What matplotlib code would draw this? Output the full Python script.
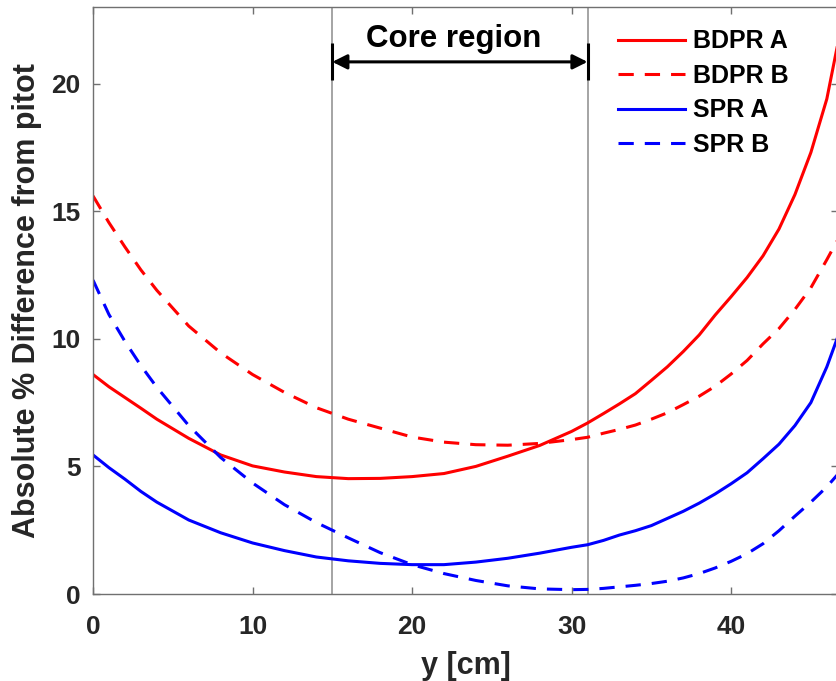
import matplotlib
matplotlib.use("Agg")
import matplotlib.pyplot as plt

plt.rcParams['font.family'] = ['Liberation Sans', 'DejaVu Sans']
plt.rcParams['font.weight'] = 'bold'

# Data
y_cm = [0, 1, 2, 3, 4, 6, 8, 10, 12, 14, 16, 18, 20, 22, 24, 26, 28, 30, 31, 32, 33, 34, 35, 36,
        37, 38, 39, 40, 41, 42, 43, 44, 45, 46, 46.7]
bdpr_a = [8.6, 8.12, 7.7, 7.28, 6.85, 6.1, 5.45, 5.02, 4.78, 4.6, 4.52, 4.53, 4.6, 4.72, 5.0, 5.4,
          5.82, 6.37, 6.7, 7.07, 7.45, 7.85, 8.37, 8.9, 9.5, 10.15, 10.93, 11.65, 12.4, 13.25,
          14.3, 15.65, 17.3, 19.4, 21.6]
bdpr_b = [15.6, 14.55, 13.6, 12.7, 11.9, 10.5, 9.45, 8.6, 7.9, 7.3, 6.85, 6.5, 6.15, 5.95, 5.85,
          5.83, 5.9, 6.05, 6.14, 6.3, 6.45, 6.62, 6.85, 7.1, 7.42, 7.75, 8.14, 8.62, 9.15, 9.8,
          10.4, 11.15, 12.0, 13.1, 13.9]
spr_a = [5.45, 4.95, 4.5, 4.02, 3.6, 2.9, 2.4, 2.0, 1.7, 1.45, 1.3, 1.2, 1.15, 1.15, 1.25, 1.4,
         1.6, 1.83, 1.93, 2.1, 2.31, 2.48, 2.68, 2.96, 3.24, 3.56, 3.92, 4.32, 4.75, 5.3, 5.87, 6.6,
         7.5, 8.9, 10.1]
spr_b = [12.3, 10.95, 9.9, 8.95, 8.1, 6.6, 5.35, 4.35, 3.5, 2.8, 2.2, 1.62, 1.15, 0.8, 0.53, 0.32,
         0.2, 0.17, 0.18, 0.22, 0.28, 0.34, 0.41, 0.5, 0.63, 0.8, 1.02, 1.28, 1.58, 1.97, 2.48,
         3.05, 3.6, 4.2, 4.7]

series_labels = ['BDPR A', 'BDPR B', 'SPR A', 'SPR B']
core_start, core_end = 15, 31
xticks = [0, 10, 20, 30, 40]
yticks = [0, 5, 10, 15, 20]

W, H = 837, 681
fig = plt.figure(figsize=(W / 100, H / 100), dpi=100)
ax = fig.add_axes([93 / W, (H - 594) / H, 745 / W, 587 / H])

dash = (5, 3.6)
lw = 2.2
ax.plot(y_cm, bdpr_a, color='#ff0000', lw=lw, label=series_labels[0])
ax.plot(y_cm, bdpr_b, color='#ff0000', lw=lw, ls=(0, dash), label=series_labels[1])
ax.plot(y_cm, spr_a, color='#0000ff', lw=lw, label=series_labels[2])
ax.plot(y_cm, spr_b, color='#0000ff', lw=lw, ls=(0, dash), label=series_labels[3])

for xv in (core_start, core_end):
    ax.axvline(xv, color='#8c8c8c', lw=1.1, zorder=1)
    ax.plot([xv, xv], [20.13, 21.58], color='black', lw=2.2, solid_capstyle='butt')

ax.annotate('', xy=(core_start, 20.85), xytext=(core_end, 20.85),
            arrowprops=dict(arrowstyle='<|-|>', color='black', lw=2.2,
                            shrinkA=0, shrinkB=0, mutation_scale=22))
ax.text((core_start + core_end) / 2 - 0.4, 21.45, 'Core region', ha='center', va='baseline',
        fontsize=22.5, fontweight='bold', color='#000000')

ax.set_xlim(0, 46.7)
ax.set_ylim(0, 23)
ax.set_xticks(xticks)
ax.set_yticks(yticks)
ax.tick_params(direction='in', length=5, width=1, colors='#707070', top=True, right=True,
               labelsize=19, labelcolor='#262626')
ax.tick_params(axis='x', pad=15)
ax.tick_params(axis='y', pad=9)
for lab in ax.get_xticklabels() + ax.get_yticklabels():
    lab.set_fontweight('bold')
for s in ax.spines.values():
    s.set_color('#707070')
    s.set_linewidth(1)

ax.set_xlabel('y [cm]', fontsize=22, fontweight='bold', color='#262626', labelpad=9)
ax.set_ylabel('Absolute % Difference from pitot', fontsize=22, fontweight='bold', color='#262626',
              labelpad=7)

leg = ax.legend(loc='upper left', bbox_to_anchor=((618 - 93) / 745, 0.962), frameon=False,
                fontsize=18, handlelength=2.7, handletextpad=0.3, labelspacing=0.42,
                borderpad=0, borderaxespad=0)
for t in leg.get_texts():
    t.set_fontweight('bold')
    t.set_color('#000000')

fig.savefig('out.png', dpi=100)
